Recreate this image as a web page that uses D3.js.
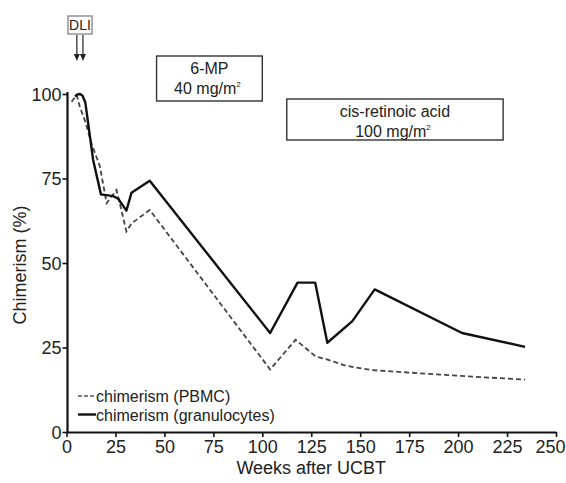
<!DOCTYPE html>
<html>
<head>
<meta charset="utf-8">
<script src="https://cdn.jsdelivr.net/npm/d3@7"></script>
<style>
  body { margin: 0; background: #fff; }
  svg text { font-family: "Liberation Sans", Arial, sans-serif; fill: #222; }
</style>
</head>
<body>
<div id="chart"></div>
<script>
'use strict';

// weeks after UCBT and chimerism (%)
const pbmcWeeks = [2.6, 5.2, 6.9, 9.5, 13, 17, 20.5, 25.5, 27.2, 30.6, 33.2, 42.5, 104, 117, 127.3, 133, 142.6, 156, 203.7, 234.2];
const pbmcValues = [97.7, 99.7, 96, 92, 85, 78.7, 67.7, 71.6, 67.7, 59.3, 61.7, 65.7, 18.5, 27.3, 22.3, 21.5, 19.6, 18.3, 16.5, 15.5];
const granWeeks = [4.3, 5.8, 6.9, 8.2, 9.6, 13.6, 17.6, 23.8, 26.4, 30.6, 33.2, 42.5, 104, 118, 127, 133.2, 146, 157.4, 202, 234.2];
const granValues = [99.3, 99.9, 100, 99.5, 97.5, 80.5, 70.3, 69.8, 69, 65.5, 70.8, 74.3, 29.3, 44.2, 44.2, 26.4, 32.8, 42.2, 29.3, 25.2];

const xTicks = [0, 25, 50, 75, 100, 125, 150, 175, 200, 225, 250];
const yTicks = [0, 25, 50, 75, 100];
const dliWeeks = [5.3, 8.4];
const treatments = [
  { label: '6-MP', dose: '40 mg/m', from: 46, to: 100, row: 0 },
  { label: 'cis-retinoic acid', dose: '100 mg/m', from: 112.5, to: 223, row: 1 }
];
const legendItems = [
  { label: 'chimerism (PBMC)', dashed: true },
  { label: 'chimerism (granulocytes)', dashed: false }
];

const width = 566, height = 483;
const svg = d3.select('#chart').append('svg')
  .attr('width', width)
  .attr('height', height);

const x = d3.scaleLinear().domain([0, 250]).range([66.5, 556]);
const y = d3.scaleLinear().domain([0, 100]).range([432, 94]);

// axes
const xAxis = svg.append('g')
  .attr('transform', 'translate(0,' + y(0) + ')')
  .call(d3.axisBottom(x).tickValues(xTicks).tickSize(5).tickPadding(3).tickSizeOuter(0));
const yAxis = svg.append('g')
  .attr('transform', 'translate(' + (x(0) + 1) + ',0)')
  .call(d3.axisLeft(y).tickValues(yTicks).tickSize(5).tickPadding(1).tickSizeOuter(0));

[xAxis, yAxis].forEach(function(g) {
  g.select('.domain').attr('stroke', '#111').attr('stroke-width', 2.2);
  g.selectAll('.tick line').attr('stroke', '#111').attr('stroke-width', 1.6);
  g.selectAll('.tick text').attr('font-size', 18).style('fill', '#222')
    .style('font-family', '"Liberation Sans", Arial, sans-serif');
});
yAxis.select('.domain').attr('d', 'M0,' + (y(0) + 1) + 'V' + (y(100) - 2));
yAxis.selectAll('.tick text').attr('dy', '0.36em');
// keep the last label inside the picture
xAxis.selectAll('.tick text').filter(function(d) { return d === 250; })
  .attr('text-anchor', 'end').attr('x', 9);

svg.append('text')
  .attr('x', (x(0) + x(250)) / 2)
  .attr('y', 474)
  .attr('text-anchor', 'middle')
  .attr('font-size', 18)
  .text('Weeks after UCBT');

svg.append('text')
  .attr('transform', 'translate(26,' + 265 + ') rotate(-90)')
  .attr('text-anchor', 'middle')
  .attr('font-size', 18)
  .text('Chimerism (%)');

// lines
const line = d3.line()
  .x(function(d) { return x(d[0]); })
  .y(function(d) { return y(d[1]); });

svg.append('path')
  .datum(d3.zip(pbmcWeeks, pbmcValues))
  .attr('d', line)
  .attr('fill', 'none')
  .attr('stroke', '#444')
  .attr('stroke-width', 1.8)
  .attr('stroke-dasharray', '5,3');

svg.append('path')
  .datum(d3.zip(granWeeks, granValues))
  .attr('d', line)
  .attr('fill', 'none')
  .attr('stroke', '#111')
  .attr('stroke-width', 2.4)
  .attr('stroke-linejoin', 'round');

// treatment boxes
const boxTop = [56, 99];
const boxH = [45, 41];
treatments.forEach(function(t) {
  const g = svg.append('g');
  const x0 = x(t.from), x1 = x(t.to);
  g.append('rect')
    .attr('x', x0).attr('y', boxTop[t.row])
    .attr('width', x1 - x0).attr('height', boxH[t.row])
    .attr('fill', '#fff').attr('stroke', '#333').attr('stroke-width', 1.4);
  g.append('text')
    .attr('x', (x0 + x1) / 2).attr('y', boxTop[t.row] + 18)
    .attr('text-anchor', 'middle').attr('font-size', 16)
    .text(t.label);
  const dose = g.append('text')
    .attr('x', (x0 + x1) / 2 - 2).attr('y', boxTop[t.row] + 38)
    .attr('text-anchor', 'middle').attr('font-size', 16)
    .text(t.dose);
  dose.append('tspan').attr('dy', -7).attr('font-size', 8).text('2');
});

// DLI marker
svg.append('rect')
  .attr('x', 68).attr('y', 16).attr('width', 24).attr('height', 18)
  .attr('fill', '#fff').attr('stroke', '#999').attr('stroke-width', 1.6);
svg.append('text')
  .attr('x', 80).attr('y', 30).attr('text-anchor', 'middle')
  .attr('font-size', 14).text('DLI');
dliWeeks.forEach(function(w) {
  const cx = x(w);
  svg.append('line')
    .attr('x1', cx).attr('x2', cx).attr('y1', 35).attr('y2', 56)
    .attr('stroke', '#222').attr('stroke-width', 1.2);
  svg.append('path')
    .attr('d', 'M' + (cx - 3) + ',54L' + (cx + 3) + ',54L' + cx + ',61Z')
    .attr('fill', '#222');
});

// legend
legendItems.forEach(function(item, i) {
  const ly = 396 + i * 18.5;
  svg.append('line')
    .attr('x1', 78).attr('x2', 96).attr('y1', ly).attr('y2', ly)
    .attr('stroke', item.dashed ? '#555' : '#111')
    .attr('stroke-width', item.dashed ? 1.6 : 2.4)
    .attr('stroke-dasharray', item.dashed ? '4,2' : null);
  svg.append('text')
    .attr('x', 96).attr('y', ly + 6)
    .attr('font-size', 16)
    .text(item.label);
});
</script>
</body>
</html>
